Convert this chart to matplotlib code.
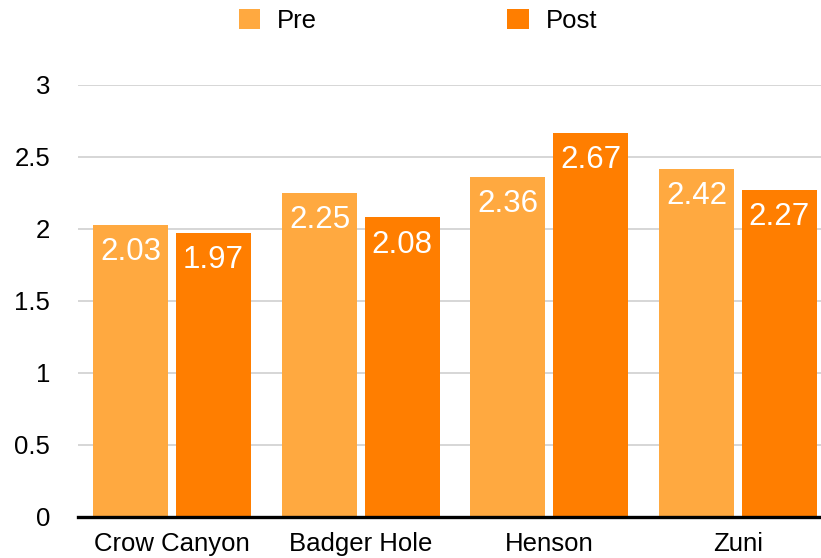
import matplotlib
matplotlib.use("Agg")
import matplotlib.pyplot as plt
import numpy as np

categories = ["Crow Canyon", "Badger Hole", "Henson", "Zuni"]
pre_values = [2.03, 2.25, 2.36, 2.42]
post_values = [1.97, 2.08, 2.67, 2.27]
series_names = ["Pre", "Post"]
y_ticks = [0, 0.5, 1, 1.5, 2, 2.5, 3]
y_tick_labels = ["0", "0.5", "1", "1.5", "2", "2.5", "3"]

PRE_COLOR = "#FFA940"
POST_COLOR = "#FF7E00"

plt.rcParams["font.family"] = ["Liberation Sans", "DejaVu Sans"]

fig = plt.figure(figsize=(8.21, 5.58), dpi=100)
ax = fig.add_axes([78 / 821, 41 / 558, 754 / 821, 432 / 558])

x = np.arange(len(categories))
bar_w = 0.398
offset = 0.219

bars_pre = ax.bar(x - offset, pre_values, width=bar_w, color=PRE_COLOR,
                  label=series_names[0], zorder=2)
bars_post = ax.bar(x + offset, post_values, width=bar_w, color=POST_COLOR,
                   label=series_names[1], zorder=2)

for bars, vals in ((bars_pre, pre_values), (bars_post, post_values)):
    for b, v in zip(bars, vals):
        ax.annotate(f"{v:.2f}", (b.get_x() + b.get_width() / 2, v),
                    xytext=(0, -19.5), textcoords="offset points",
                    ha="center", va="center", color="white", fontsize=22.5,
                    zorder=3)

ax.set_xlim(-0.5, 3.5)
ax.set_ylim(0, 3)
ax.set_yticks(y_ticks)
ax.set_yticklabels(y_tick_labels)
ax.set_xticks(x)
ax.set_xticklabels(categories)

ax.yaxis.grid(True, color="#CCCCCC", linewidth=1.1, zorder=0)
ax.set_axisbelow(True)
for side in ("top", "right", "left"):
    ax.spines[side].set_visible(False)
ax.spines["bottom"].set_linewidth(2.4)
ax.spines["bottom"].set_color("black")
ax.spines["bottom"].set_zorder(4)

ax.tick_params(axis="y", length=0, pad=20, labelsize=18.5)
ax.tick_params(axis="x", length=0, pad=11, labelsize=18.5)

fig.legend(handles=[bars_pre, bars_post], labels=series_names,
           loc="center", bbox_to_anchor=(418 / 821, 1 - 21 / 558),
           ncol=2, frameon=False, fontsize=18.5,
           handlelength=0.85, handleheight=0.85, handletextpad=0.65,
           columnspacing=7.4, borderpad=0, borderaxespad=0)

fig.savefig("out.png", dpi=100)
